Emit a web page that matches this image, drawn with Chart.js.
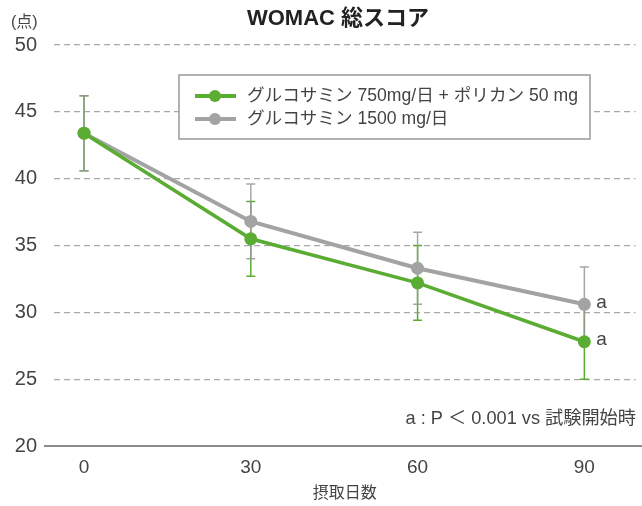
<!DOCTYPE html>
<html>
<head>
<meta charset="utf-8">
<script src="https://cdn.jsdelivr.net/npm/chart.js@4"></script>
<style>
  html, body { margin: 0; padding: 0; background: #fff; }
  #wrap { width: 642px; height: 506px; }
</style>
</head>
<body>
<div id="wrap"><canvas id="womac"></canvas></div>
<script>
const days = [0, 30, 60, 90];
const comboMean = [43.4, 35.5, 32.2, 27.8];
const comboSD = [2.8, 2.8, 2.8, 2.8];
const glucoMean = [43.4, 36.8, 33.3, 30.6];
const glucoSD = [2.8, 2.8, 2.7, 2.8];
const yTicks = [20, 25, 30, 35, 40, 45, 50];
const seriesNames = ['グルコサミン 750mg/日 + ポリカン 50 mg', 'グルコサミン 1500 mg/日'];
const sigMarks = [[null, null, null, 'a'], [null, null, null, 'a']];

const green = '#5aac33';
const gray = '#a3a3a3';
const fontFamily = "'Liberation Sans', 'Noto Sans CJK JP', sans-serif";
Chart.defaults.font.family = fontFamily;
Chart.defaults.color = '#444';

const sds = [comboSD, glucoSD];

// error bars, baseline, legend box and extra texts
const extras = {
  id: 'extras',
  beforeDatasetsDraw(chart) {
    const ctx = chart.ctx;
    const xs = chart.scales.x, ys = chart.scales.y;
    // baseline at 20
    ctx.save();
    ctx.strokeStyle = '#666';
    ctx.lineWidth = 1.5;
    ctx.beginPath();
    ctx.moveTo(44, ys.getPixelForValue(20));
    ctx.lineTo(642, ys.getPixelForValue(20));
    ctx.stroke();
    // error bars: green first, gray over it
    [0, 1].forEach(i => {
      const ds = chart.data.datasets[i];
      ctx.strokeStyle = i === 0 ? green : 'rgba(150,150,150,0.85)';
      ctx.lineWidth = 1.5;
      ds.data.forEach((p, j) => {
        const x = xs.getPixelForValue(p.x);
        const top = ys.getPixelForValue(p.y + sds[i][j]);
        const bot = ys.getPixelForValue(p.y - sds[i][j]);
        ctx.beginPath();
        ctx.moveTo(x, top); ctx.lineTo(x, bot);
        ctx.moveTo(x - 4.5, top); ctx.lineTo(x + 4.5, top);
        ctx.moveTo(x - 4.5, bot); ctx.lineTo(x + 4.5, bot);
        ctx.stroke();
      });
    });
    ctx.restore();
  },
  afterDatasetsDraw(chart) {
    const ctx = chart.ctx;
    const xs = chart.scales.x, ys = chart.scales.y;
    ctx.save();
    // title
    ctx.fillStyle = '#222';
    ctx.font = 'bold 22px ' + fontFamily;
    ctx.textAlign = 'center';
    ctx.textBaseline = 'middle';
    ctx.fillText('WOMAC 総スコア', 338, 19);
    // unit
    ctx.fillStyle = '#444';
    ctx.font = '16px ' + fontFamily;
    ctx.textAlign = 'left';
    ctx.fillText('(点)', 11, 23);
    // significance marks
    ctx.font = '19px ' + fontFamily;
    chart.data.datasets.forEach((ds, i) => {
      ds.data.forEach((p, j) => {
        if (sigMarks[i][j]) {
          ctx.fillText(sigMarks[i][j], xs.getPixelForValue(p.x) + 12, ys.getPixelForValue(p.y) - 2);
        }
      });
    });
    // footnote
    ctx.font = '18.2px ' + fontFamily;
    ctx.textAlign = 'right';
    ctx.fillText('a : P ＜ 0.001 vs 試験開始時', 636, 419);
    // legend
    ctx.fillStyle = '#fff';
    ctx.fillRect(179, 75, 411, 64);
    ctx.strokeStyle = '#999';
    ctx.lineWidth = 1.5;
    ctx.strokeRect(179, 75, 411, 64);
    chart.data.datasets.forEach((ds, i) => {
      const y = 96 + i * 23;
      ctx.strokeStyle = ds.borderColor;
      ctx.lineWidth = 4;
      ctx.beginPath();
      ctx.moveTo(195, y); ctx.lineTo(236, y);
      ctx.stroke();
      ctx.fillStyle = ds.backgroundColor;
      ctx.beginPath();
      ctx.arc(215, y, 6, 0, Math.PI * 2);
      ctx.fill();
      ctx.fillStyle = '#444';
      ctx.font = '17.6px ' + fontFamily;
      ctx.textAlign = 'left';
      ctx.fillText(ds.label, 247, y);
    });
    ctx.restore();
  }
};

new Chart('womac', {
  type: 'line',
  data: {
    datasets: [
      {
        label: seriesNames[0],
        data: days.map((d, i) => ({ x: d, y: comboMean[i] })),
        borderColor: green,
        backgroundColor: green,
        borderWidth: 3.5,
        pointRadius: 6.5,
        pointBorderWidth: 0,
        pointHoverRadius: 6.5
      },
      {
        label: seriesNames[1],
        data: days.map((d, i) => ({ x: d, y: glucoMean[i] })),
        borderColor: gray,
        backgroundColor: gray,
        borderWidth: 4,
        pointRadius: 6.5,
        pointBorderWidth: 0,
        pointHoverRadius: 6.5
      }
    ]
  },
  options: {
    responsive: true,
    maintainAspectRatio: false,
    animation: false,
    layout: { padding: { top: 45, right: 6, left: 0, bottom: 0 } },
    plugins: {
      legend: { display: false },
      tooltip: { enabled: false }
    },
    scales: {
      x: {
        type: 'linear',
        min: -5.4,
        max: 99.2,
        afterBuildTicks: s => { s.ticks = days.map(v => ({ value: v })); },
        afterFit: s => { s.height = 60; },
        grid: { display: false },
        border: { display: false },
        ticks: { font: { size: 19 }, color: '#444', padding: 2 },
        title: { display: true, text: '摂取日数', font: { size: 16 }, color: '#444', padding: { top: 0, bottom: 3 } }
      },
      y: {
        min: 20,
        max: 50,
        afterBuildTicks: s => { s.ticks = yTicks.map(v => ({ value: v })); },
        afterFit: s => { s.width = 54; },
        grid: {
          drawTicks: false,
          color: c => c.tick && c.tick.value === 20 ? 'rgba(0,0,0,0)' : '#a8a8a8',
          lineWidth: 1.2
        },
        border: { display: false, dash: [6, 4] },
        ticks: { font: { size: 20 }, color: '#444', padding: 17 }
      }
    }
  },
  plugins: [extras]
});
</script>
</body>
</html>
